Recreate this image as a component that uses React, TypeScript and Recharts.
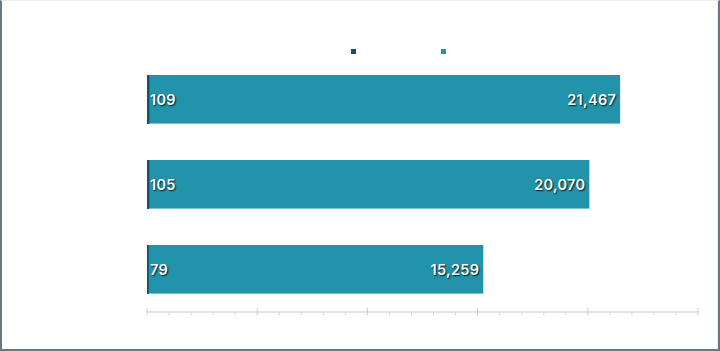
import React from "react";
import { BarChart, Bar, XAxis, YAxis, Legend, LabelList } from "recharts";

const categories = ["Group A", "Group B", "Group C"];
const countValues = [109, 105, 79];
const amountValues = [21467, 20070, 15259];
const xTicks = [0, 1000, 2000, 3000, 4000, 5000, 6000, 7000, 8000, 9000, 10000, 11000, 12000, 13000, 14000, 15000, 16000, 17000, 18000, 19000, 20000, 21000, 22000, 23000, 24000, 25000];
const seriesNames = ["Count", "Amount"];
const seriesColors = ["#1d4e66", "#2194ab"];

const data = categories.map((name, i) => ({
  name,
  count: countValues[i],
  amount: amountValues[i],
}));

const fmt = (v: number) => v.toLocaleString("en-US");

const labelStyle: React.CSSProperties = {
  fontFamily: "Inter, 'Open Sans', sans-serif",
  fontWeight: 600,
  fontSize: 14.5,
  letterSpacing: 0.3,
  fill: "#ffffff",
  textShadow: "1px 1px 1.5px rgba(0,0,0,0.85)",
};

const LeftLabel = (props: any) => {
  const { x, y, height, value } = props;
  return (
    <text x={x + 3} y={y + height / 2} dominantBaseline="central" textAnchor="start" style={labelStyle}>
      {fmt(value)}
    </text>
  );
};

const RightLabel = (props: any) => {
  const { x, y, width, height, value } = props;
  return (
    <text x={x + width - 4} y={y + height / 2} dominantBaseline="central" textAnchor="end" style={labelStyle}>
      {fmt(value)}
    </text>
  );
};

const TealShape = (props: any) => {
  const { x, y, width, height, fill } = props;
  if (!width || width <= 0) return null;
  return (
    <g>
      <rect x={x} y={y} width={width} height={height} fill={fill} />
      <rect x={x} y={y + height - 1} width={width} height={1} fill="#7cc3d2" />
    </g>
  );
};

const Tick = (props: any) => {
  const { x, y, payload } = props;
  const major = payload.value % 5000 === 0;
  return (
    <line
      x1={x}
      x2={x}
      y1={major ? y - 4 : y}
      y2={y + 3}
      stroke={major ? "#c8c8c8" : "#d6d6d6"}
      strokeWidth={1}
    />
  );
};

const LegendContent = () => (
  <div style={{ display: "flex", flexDirection: "row" }}>
    {seriesNames.map((n, i) => (
      <div key={n} style={{ width: 90, display: "flex", alignItems: "center" }}>
        <span style={{ width: 5, height: 5, background: seriesColors[i], display: "inline-block" }} />
        <span style={{ color: "#ffffff", fontSize: 12, marginLeft: 5, fontFamily: "'Open Sans', sans-serif" }}>{n}</span>
      </div>
    ))}
  </div>
);

export default function App() {
  return (
    <div style={{ position: "absolute", left: 0, top: 0, width: 720, height: 351, background: "#ffffff" }}>
      <BarChart
        width={720}
        height={351}
        data={data}
        layout="vertical"
        margin={{ top: 57, right: 22, bottom: 9, left: 147 }}
        barSize={49}
        barGap={-49}
      >
        <XAxis
          type="number"
          domain={[0, 25000]}
          ticks={xTicks}
          interval={0}
          tick={<Tick />}
          tickLine={false}
          tickSize={0}
          tickMargin={0}
          height={30}
          axisLine={{ stroke: "#e4e4e4", strokeWidth: 2 }}
        />
        <YAxis type="category" dataKey="name" hide />
        <Legend
          verticalAlign="middle"
          align="center"
          layout="horizontal"
          content={<LegendContent />}
          wrapperStyle={{ top: 43, left: 351, width: 200, height: 12 }}
        />
        <Bar dataKey="amount" name={seriesNames[1]} fill={seriesColors[1]} shape={<TealShape />} isAnimationActive={false}>
          <LabelList dataKey="amount" content={<RightLabel />} />
        </Bar>
        <Bar dataKey="count" name={seriesNames[0]} fill={seriesColors[0]} isAnimationActive={false}>
          <LabelList dataKey="count" content={<LeftLabel />} />
        </Bar>
      </BarChart>
      <div
        style={{
          position: "absolute",
          left: 0,
          top: 0,
          width: 720,
          height: 351,
          boxSizing: "border-box",
          borderLeft: "2px solid #6c767f",
          borderRight: "2px solid #6c767f",
          borderBottom: "2px solid #6c767f",
          borderTop: "1px solid #ececec",
          pointerEvents: "none",
        }}
      >
        <div style={{ position: "absolute", right: 0, top: 0, width: 1, height: "100%", background: "#eeeeee" }} />
      </div>
    </div>
  );
}
